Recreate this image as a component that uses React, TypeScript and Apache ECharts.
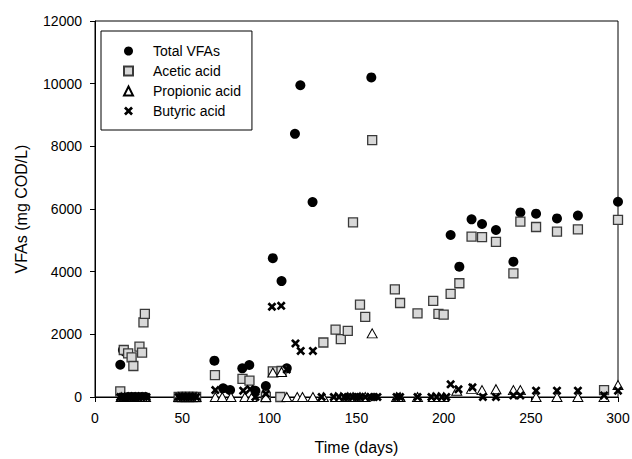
import React, { useEffect, useRef } from "react";
import * as echarts from "echarts";

// ---- Data ----
const totalDays = [14.5, 16, 17, 19, 21, 23, 25, 27, 29, 48, 50, 52, 54, 56, 58, 68.5, 73.5, 77.5, 84.5, 88.5, 92, 98, 102, 107, 110, 114.7, 117.8, 124.8, 158.5, 204, 209, 216, 222, 230, 240, 244, 253, 265, 277, 300];
const totalVFAs = [1030, 1500, 1450, 0, 0, 0, 0, 0, 0, 0, 0, 0, 0, 0, 0, 1160, 280, 220, 915, 1020, 200, 350, 4430, 3700, 915, 8400, 9950, 6220, 10200, 5170, 4160, 5670, 5520, 5330, 4320, 5890, 5850, 5700, 5790, 6230];

const aceticDays = [14.5, 16.5, 19, 21, 22, 25.5, 27, 27.8, 28.6, 48, 50, 52, 54, 56, 58, 68.8, 84.6, 88.6, 98, 102, 106.3, 107, 131, 138, 141, 145, 148, 152, 155, 159, 172, 175, 185, 194, 197, 200, 204, 209, 216, 222, 230, 240, 244, 253, 265, 277, 292, 300];
const aceticAcid = [180, 1500, 1390, 1265, 990, 1605, 1415, 2380, 2650, 0, 0, 0, 0, 0, 0, 700, 580, 520, 0, 820, 0, 830, 1740, 2150, 1850, 2110, 5575, 2950, 2560, 8200, 3435, 3000, 2670, 3065, 2650, 2630, 3290, 3630, 5120, 5100, 4950, 3945, 5600, 5425, 5275, 5350, 220, 5650];

const propionicDays = [15, 17, 19, 21, 23, 25, 27, 29, 48, 50, 52, 54, 56, 58, 69, 73, 78, 86, 90, 98, 102, 107, 110, 116, 119, 125, 131, 138, 141, 145, 148, 152, 155, 159, 173, 175, 185, 194, 197, 200, 207.5, 216, 222, 230, 240, 244, 253, 265, 277, 292, 300];
const propionicAcid = [0, 0, 0, 0, 0, 0, 0, 0, 0, 0, 0, 0, 0, 0, 0, 0, 0, 0, 0, 0, 780, 800, 0, 0, 0, 0, 0, 0, 0, 0, 0, 0, 0, 2030, 0, 0, 0, 0, 0, 0, 200, 260, 220, 250, 220, 220, 0, 0, 0, 0, 380];

const butyricDays = [14.5, 15.5, 16.5, 17.5, 19, 20, 21, 22, 23.5, 25, 26.5, 28, 29.5, 48, 50, 52, 54, 56, 58, 69, 74, 85, 89, 92, 98, 101.5, 106.8, 110, 115, 118, 125, 130, 137, 140, 143, 145, 148, 150, 152, 155, 158, 160, 162, 173, 175, 185, 193, 196, 199, 201.5, 204, 208.5, 216.5, 222.5, 230, 240, 244, 253, 265, 277, 292, 300];
const butyricAcid = [0, 0, 0, 0, 0, 0, 0, 0, 0, 0, 0, 0, 0, 0, 0, 0, 0, 0, 0, 220, 250, 200, 250, 0, 100, 2880, 2910, 880, 1710, 1470, 1470, 0, 0, 0, 0, 0, 0, 0, 0, 0, 0, 0, 0, 0, 0, 0, 0, 0, 0, 0, 405, 245, 310, 0, 0, 50, 50, 200, 200, 200, 50, 200];

const seriesNames = ["Total VFAs", "Acetic acid", "Propionic acid", "Butyric acid"];
const xTicks = { min: 0, max: 300, interval: 50 };
const yTicks = { min: 0, max: 12000, interval: 2000 };

const pairs = (xs: number[], ys: number[]) => xs.map((x, i) => [x, ys[i]]);

const X_PATH =
  "path://M0,2.1 L2.1,0 L5,2.9 L7.9,0 L10,2.1 L7.1,5 L10,7.9 L7.9,10 L5,7.1 L2.1,10 L0,7.9 L2.9,5 Z";

const FONT = "'Liberation Sans', Arial, Helvetica, sans-serif";

export default function App() {
  const ref = useRef<HTMLDivElement>(null);
  useEffect(() => {
    if (!ref.current) return;
    document.body.style.margin = "0";
    const chart = echarts.init(ref.current, undefined, { renderer: "svg" });
    chart.setOption({
      animation: false,
      backgroundColor: "#fff",
      textStyle: { fontFamily: FONT },
      grid: {
        left: 95,
        top: 21,
        width: 523,
        height: 376,
        containLabel: false,
        outerBoundsMode: "none",
        show: true,
        borderColor: "#000",
        borderWidth: 1,
        backgroundColor: "transparent",
      },
      legend: {
        data: seriesNames,
        orient: "vertical",
        left: 101,
        top: 31,
        padding: [13, 11, 12, 22],
        itemWidth: 9,
        itemHeight: 9,
        itemGap: 6,
        borderColor: "#000",
        borderWidth: 1,
        backgroundColor: "#fff",
        textStyle: {
          fontFamily: FONT,
          fontSize: 14,
          color: "#000",
          padding: [0, 0, 0, 15],
        },
      },
      xAxis: {
        type: "value",
        min: xTicks.min,
        max: xTicks.max,
        interval: xTicks.interval,
        name: "Time (days)",
        nameLocation: "middle",
        nameGap: 42,
        nameTextStyle: { fontFamily: FONT, fontSize: 16, color: "#000" },
        axisLine: { show: true, onZero: false, lineStyle: { color: "#000", width: 1 } },
        axisTick: { show: true, length: 5, inside: false, lineStyle: { color: "#000" } },
        axisLabel: { fontFamily: FONT, fontSize: 14, color: "#000", margin: 14 },
        splitLine: { show: false },
      },
      yAxis: {
        type: "value",
        min: yTicks.min,
        max: yTicks.max,
        interval: yTicks.interval,
        name: "VFAs (mg COD/L)",
        nameLocation: "middle",
        nameGap: 66,
        nameTextStyle: { fontFamily: FONT, fontSize: 16, color: "#000" },
        axisLine: { show: true, lineStyle: { color: "#000", width: 1 } },
        axisTick: { show: true, length: 5, inside: false, lineStyle: { color: "#000" } },
        axisLabel: {
          fontFamily: FONT,
          fontSize: 14,
          color: "#000",
          margin: 13,
          formatter: (v: number) => String(v),
        },
        splitLine: { show: false },
      },
      series: [
        {
          name: seriesNames[0],
          type: "scatter",
          symbol: "circle",
          symbolSize: 10,
          itemStyle: { color: "#000", borderColor: "#000", borderWidth: 0, opacity: 1 },
          data: pairs(totalDays, totalVFAs),
        },
        {
          name: seriesNames[1],
          type: "scatter",
          symbol: "rect",
          symbolSize: 9,
          itemStyle: { color: "#d8d8d8", borderColor: "#3a3a3a", borderWidth: 1.3, opacity: 1 },
          data: pairs(aceticDays, aceticAcid),
        },
        {
          name: seriesNames[2],
          type: "scatter",
          symbol: "triangle",
          symbolSize: [10, 9],
          itemStyle: { color: "#fff", borderColor: "#000", borderWidth: 1, opacity: 1 },
          data: pairs(propionicDays, propionicAcid),
        },
        {
          name: seriesNames[3],
          type: "scatter",
          symbol: X_PATH,
          symbolSize: 9,
          itemStyle: { color: "#000", borderWidth: 0, opacity: 1 },
          data: pairs(butyricDays, butyricAcid),
        },
      ],
    });
    return () => chart.dispose();
  }, []);
  return <div ref={ref} style={{ width: 632, height: 459 }} />;
}
